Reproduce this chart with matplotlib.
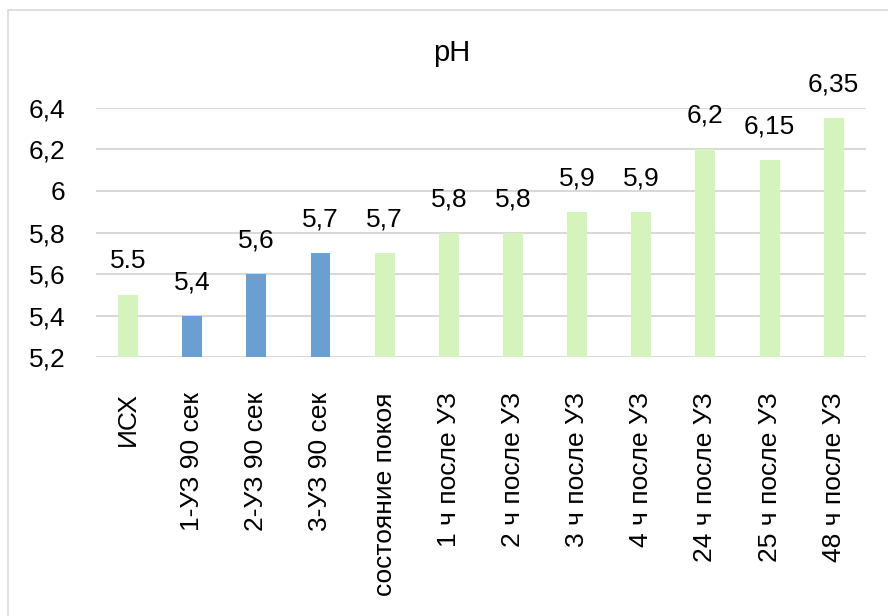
import matplotlib
matplotlib.use("Agg")
import matplotlib.pyplot as plt
from matplotlib.patches import Rectangle
from matplotlib.ticker import FuncFormatter

plt.rcParams['font.family'] = ['Liberation Sans', 'DejaVu Sans']

categories = ['ИСХ', '1-УЗ 90 сек', '2-УЗ 90 сек', '3-УЗ 90 сек', 'состояние покоя',
              '1 ч после УЗ', '2 ч после УЗ', '3 ч после УЗ', '4 ч после УЗ',
              '24 ч после УЗ', '25 ч после УЗ', '48 ч после УЗ']
ph_values = [5.5, 5.4, 5.6, 5.7, 5.7, 5.8, 5.8, 5.9, 5.9, 6.2, 6.15, 6.35]
value_labels = ['5.5', '5,4', '5,6', '5,7', '5,7', '5,8', '5,8', '5,9', '5,9', '6,2', '6,15', '6,35']
sonicated = [False, True, True, True, False, False, False, False, False, False, False, False]

green = '#d5f3bd'
blue = '#6a9fd2'
base = 5.2
fs = 19

fig = plt.figure(figsize=(8.88, 6.16), dpi=100)
ax = fig.add_axes([0.108, 0.42, 0.867, 0.405])

# frame around the whole chart
fig.patches.append(Rectangle((8 / 888, -0.1), 1.2, 1 - 10 / 616 + 0.1,
                             transform=fig.transFigure, fill=False,
                             edgecolor='#d9d9d9', linewidth=1.2))

x = range(len(categories))
colors = [blue if s else green for s in sonicated]
heights = [v - base for v in ph_values]
bars = ax.bar(x, heights, bottom=base, width=0.31, color=colors, zorder=2)

for b, v, lab in zip(bars, ph_values, value_labels):
    ax.annotate(lab, (b.get_x() + b.get_width() / 2, v), xytext=(0, 15.5),
                textcoords='offset points', ha='center', va='bottom', fontsize=fs)

ax.set_ylim(5.2, 6.4)
ax.set_xlim(-0.5, len(categories) - 0.5)
ax.set_yticks([5.2, 5.4, 5.6, 5.8, 6.0, 6.2, 6.4])
ax.yaxis.set_major_formatter(FuncFormatter(lambda v, p: f'{v:g}'.replace('.', ',')))
ax.set_xticks(list(x))
ax.set_xticklabels(categories, rotation=90, fontsize=fs)
ax.tick_params(axis='y', labelsize=fs, length=0, pad=22)
ax.tick_params(axis='x', length=0, pad=25)
ax.grid(axis='y', color='#d9d9d9', linewidth=1.5, zorder=0)
for s in ax.spines.values():
    s.set_visible(False)

fig.text(0.509, 0.914, 'pH', ha='center', va='center', fontsize=21)

fig.savefig('out.png', dpi=100)
